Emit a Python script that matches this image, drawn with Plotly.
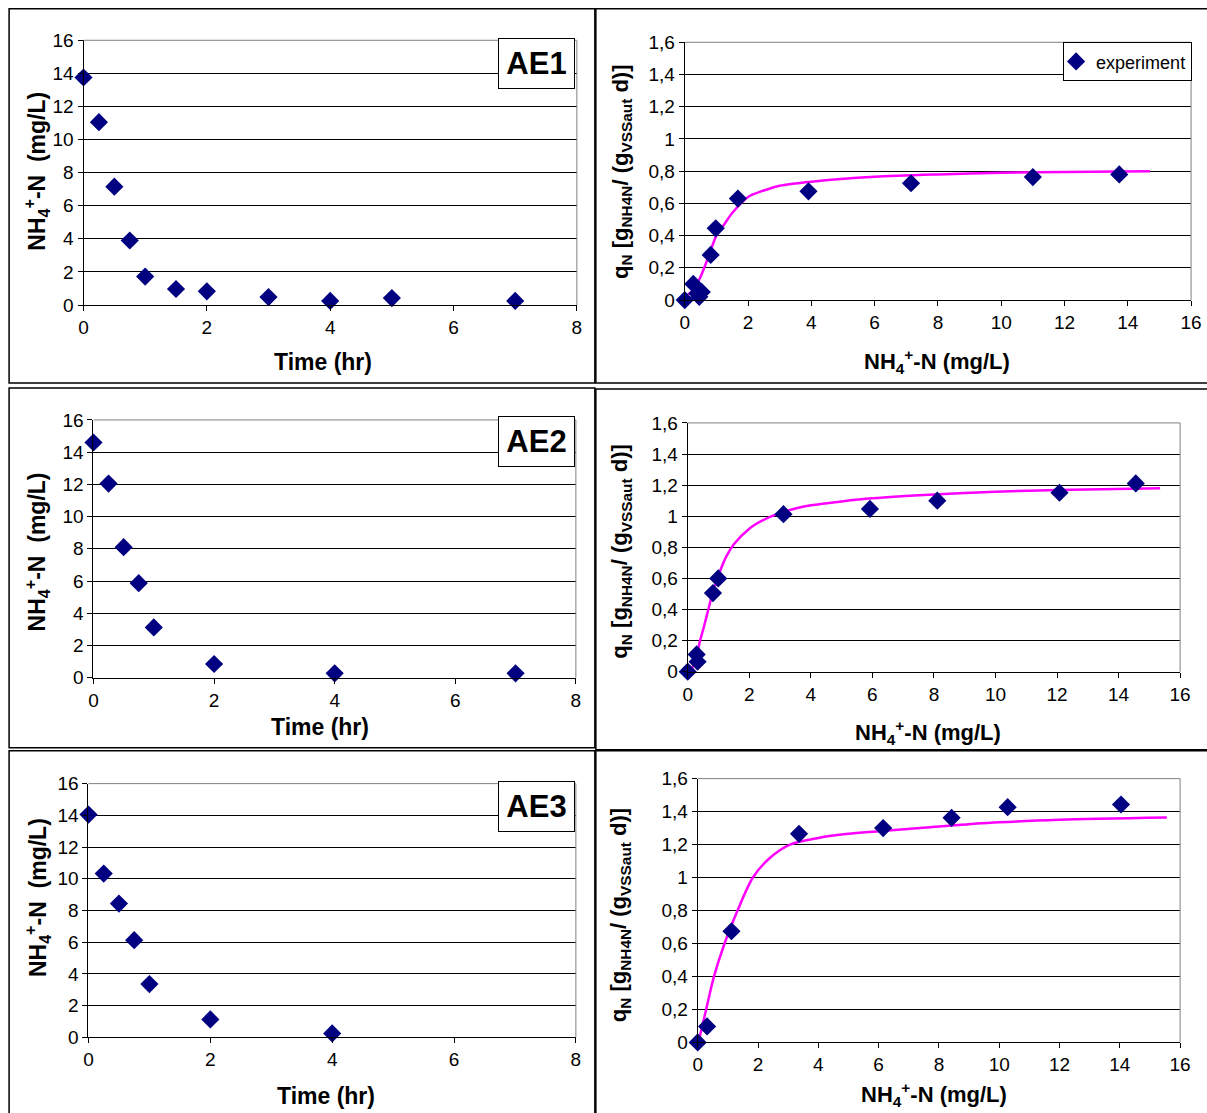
import plotly.graph_objects as go

W, H = 1207, 1113
# measured mapping between page pixels and the photographed picture
AX, BX = 0.988, 4.4
AY, BY = 0.982, 9.7

# ---------------- data ----------------
# AE1
t1 = [0, 0.25, 0.5, 0.75, 1, 1.5, 2, 3, 4, 5, 7]
c1 = [13.75, 11.05, 7.15, 3.9, 1.72, 0.97, 0.83, 0.48, 0.25, 0.42, 0.25]
s1 = [0, 0.27, 0.40, 0.46, 0.54, 0.82, 0.98, 1.68, 3.91, 7.15, 11.0, 13.73]
q1 = [0, 0.10, 0.04, 0.02, 0.05, 0.28, 0.445, 0.63, 0.675, 0.725, 0.763, 0.78]
fit_s1 = [0.03, 0.25, 0.5, 0.75, 1.0, 1.25, 1.5, 2.0, 2.5, 3.0, 4.0, 6.0, 8.0, 10.0, 12.0, 14.7]
fit_q1 = [0.02, 0.06, 0.145, 0.27, 0.40, 0.47, 0.54, 0.64, 0.68, 0.71, 0.735, 0.765, 0.78, 0.79, 0.795, 0.80]

# AE2
t2 = [0, 0.25, 0.5, 0.75, 1, 2, 4, 7]
c2 = [14.6, 12.05, 8.1, 5.87, 3.12, 0.85, 0.27, 0.27]
s2 = [0, 0.29, 0.32, 0.82, 0.99, 3.11, 5.92, 8.11, 12.08, 14.56]
q2 = [0, 0.111, 0.064, 0.506, 0.60, 1.013, 1.047, 1.10, 1.151, 1.211]
fit_s2 = [0.1, 0.25, 0.4, 0.5, 0.67, 0.8, 1.0, 1.25, 1.5, 2.0, 2.5, 3.0, 3.5, 4.0, 5.0, 6.0, 8.0, 10.0, 12.0, 15.35]
fit_q2 = [0.01, 0.07, 0.2, 0.27, 0.4, 0.5, 0.62, 0.74, 0.82, 0.92, 0.98, 1.02, 1.05, 1.07, 1.095, 1.115, 1.14, 1.158, 1.169, 1.18]

# AE3
t3 = [0, 0.25, 0.5, 0.75, 1, 2, 4]
c3 = [14.05, 10.33, 8.44, 6.13, 3.36, 1.13, 0.25]
s3 = [0, 0.31, 1.12, 3.36, 6.15, 8.42, 10.28, 14.04]
q3 = [0, 0.097, 0.674, 1.265, 1.30, 1.362, 1.427, 1.443]
fit_s3 = [0.03, 0.28, 0.54, 0.89, 1.32, 1.83, 2.4, 3.06, 4.0, 5.0, 6.0, 8.0, 10.0, 12.0, 15.56]
fit_q3 = [0.005, 0.2, 0.4, 0.6, 0.8, 1.0, 1.12, 1.2, 1.24, 1.265, 1.28, 1.31, 1.335, 1.35, 1.364]

labels = ["AE1", "AE2", "AE3"]
time_ticks = [0, 2, 4, 6, 8]
conc_ticks = [0, 2, 4, 6, 8, 10, 12, 14, 16]
c_ticks = [0, 2, 4, 6, 8, 10, 12, 14, 16]
q_ticks = [0, 0.2, 0.4, 0.6, 0.8, 1.0, 1.2, 1.4, 1.6]

# ---------------- layout geometry (picture pixels) ----------------
left_boxes = [(83, 577, 40, 305), (93, 576, 420, 678), (88, 576, 784, 1038)]
right_boxes = [(685, 1192, 42, 300), (688, 1181, 423, 672), (698, 1181, 779, 1043)]
frames = [(8.5, 595, 8.5, 383), (596, 1240, 8.5, 383),
          (8.5, 595, 388, 748), (596, 1240, 389, 750),
          (8.5, 595, 751, 1140), (596, 1240, 751, 1140)]
label_tops = [38, 417, 782]
left_ytitle = [(36, 171), (36, 552), (36, 898)]
left_xtitle = [(323, 362), (320, 727), (326, 1097)]
right_ytitle = [(622, 172), (621, 552), (621, 916)]
right_xtitle = [(938, 362), (929, 733), (935, 1095)]


def px(x):
    return ((x - BX) / AX) / W


def py(y):
    return 1 - ((y - BY) / AY) / H


def xd(a, b):
    return [px(a), px(b)]


def yd(top, bottom):
    return [py(bottom), py(top)]


FONT = "Arial, Liberation Sans, sans-serif"
NAVY = "#000080"
MAG = "#FF00FF"

fig = go.Figure()

time_data = [(t1, c1), (t2, c2), (t3, c3)]
q_data = [(s1, q1), (s2, q2), (s3, q3)]
fit_data = [(fit_s1, fit_q1), (fit_s2, fit_q2), (fit_s3, fit_q3)]

layout_axes = {}
shapes = []
annotations = []

for i in range(3):
    li = 2 * i + 1
    ri = 2 * i + 2
    for idx, box, xr, yr, xt, yt in [
        (li, left_boxes[i], [0, 8], [0, 16], time_ticks, c_ticks),
        (ri, right_boxes[i], [0, 16], [0, 1.6], conc_ticks, q_ticks),
    ]:
        xname = "xaxis" if idx == 1 else f"xaxis{idx}"
        yname = "yaxis" if idx == 1 else f"yaxis{idx}"
        xref = "x" if idx == 1 else f"x{idx}"
        yref = "y" if idx == 1 else f"y{idx}"
        layout_axes[xname] = dict(
            domain=xd(box[0], box[1]), range=xr, anchor=yref,
            tickvals=xt, showgrid=False, zeroline=False,
            showline=True, linecolor="black", linewidth=1,
            ticks="outside", ticklen=5, tickcolor="black",
            tickfont=dict(family=FONT, size=19, color="black"),
            fixedrange=True,
        )
        layout_axes[yname] = dict(
            domain=yd(box[2], box[3]), range=yr, anchor=xref,
            tickvals=yt, showgrid=True, gridcolor="black", gridwidth=1,
            zeroline=False, showline=True, linecolor="black", linewidth=1,
            ticks="outside", ticklen=5, tickcolor="black",
            tickfont=dict(family=FONT, size=19, color="black"),
            fixedrange=True,
        )
        shapes.append(dict(type="line", xref=f"{xref} domain", yref=f"{yref} domain",
                           x0=0, x1=1, y0=1, y1=1, line=dict(color="#808080", width=1),
                           layer="above"))
        shapes.append(dict(type="line", xref=f"{xref} domain", yref=f"{yref} domain",
                           x0=1, x1=1, y0=0, y1=1, line=dict(color="#808080", width=1),
                           layer="above"))

    lx = "x" if li == 1 else f"x{li}"
    ly = "y" if li == 1 else f"y{li}"
    rx = f"x{ri}"
    ry = f"y{ri}"

    tx, ty = time_data[i]
    fig.add_trace(go.Scatter(
        x=tx, y=ty, mode="markers", xaxis=lx, yaxis=ly, showlegend=False,
        marker=dict(symbol="diamond", size=14, color=NAVY), cliponaxis=False,
    ))
    fx, fy = fit_data[i]
    fig.add_trace(go.Scatter(
        x=fx, y=fy, mode="lines", xaxis=rx, yaxis=ry, showlegend=False,
        line=dict(color=MAG, width=2.5, shape="spline", smoothing=0.8),
    ))
    sx, sy = q_data[i]
    fig.add_trace(go.Scatter(
        x=sx, y=sy, mode="markers", xaxis=rx, yaxis=ry,
        name="experiment", showlegend=(i == 0),
        marker=dict(symbol="diamond", size=14, color=NAVY), cliponaxis=False,
    ))

    annotations.append(dict(
        text=f"<b>{labels[i]}</b>", xref="paper", yref="paper",
        x=px(537), y=py(label_tops[i] + 25), xanchor="center", yanchor="middle",
        showarrow=False, font=dict(family=FONT, size=31, color="black"),
        bordercolor="black", borderwidth=1, bgcolor="white",
        width=75, height=49, borderpad=0,
    ))
    annotations.append(dict(
        text="<b>NH<sub>4</sub><sup>+</sup>-N  (mg/L)</b>", xref="paper", yref="paper",
        x=px(left_ytitle[i][0]), y=py(left_ytitle[i][1]), xanchor="center", yanchor="middle",
        textangle=-90, showarrow=False, font=dict(family=FONT, size=23, color="black"),
    ))
    annotations.append(dict(
        text="<b>Time (hr)</b>", xref="paper", yref="paper",
        x=px(left_xtitle[i][0]), y=py(left_xtitle[i][1]), xanchor="center", yanchor="middle",
        showarrow=False, font=dict(family=FONT, size=23, color="black"),
    ))
    annotations.append(dict(
        text="<b>q<sub>N</sub> [g<sub>NH4N</sub>/ (g<sub>VSSaut</sub> d)]</b>",
        xref="paper", yref="paper",
        x=px(right_ytitle[i][0]), y=py(right_ytitle[i][1]), xanchor="center", yanchor="middle",
        textangle=-90, showarrow=False, font=dict(family=FONT, size=22, color="black"),
    ))
    annotations.append(dict(
        text="<b>NH<sub>4</sub><sup>+</sup>-N (mg/L)</b>", xref="paper", yref="paper",
        x=px(right_xtitle[i][0]), y=py(right_xtitle[i][1]), xanchor="center", yanchor="middle",
        showarrow=False, font=dict(family=FONT, size=22, color="black"),
    ))

for (x0, x1, y0, y1) in frames:
    shapes.append(dict(type="rect", xref="paper", yref="paper",
                       x0=px(x0), x1=px(x1), y0=py(y1), y1=py(y0),
                       line=dict(color="black", width=1.5), layer="above"))

fig.update_layout(
    width=W, height=H,
    margin=dict(l=0, r=0, t=0, b=0),
    paper_bgcolor="white", plot_bgcolor="white",
    separators=",.",
    showlegend=True,
    legend=dict(x=px(1193), y=py(42), xanchor="right", yanchor="top",
                bgcolor="white", bordercolor="black", borderwidth=1,
                font=dict(family=FONT, size=18, color="black"),
                itemwidth=30, tracegroupgap=0, indentation=-8),
    shapes=shapes,
    annotations=annotations,
    **layout_axes,
)

fig.write_html("out.html", config={"displayModeBar": False},
               post_script="document.body.style.margin='0px';document.body.style.overflow='hidden';")
